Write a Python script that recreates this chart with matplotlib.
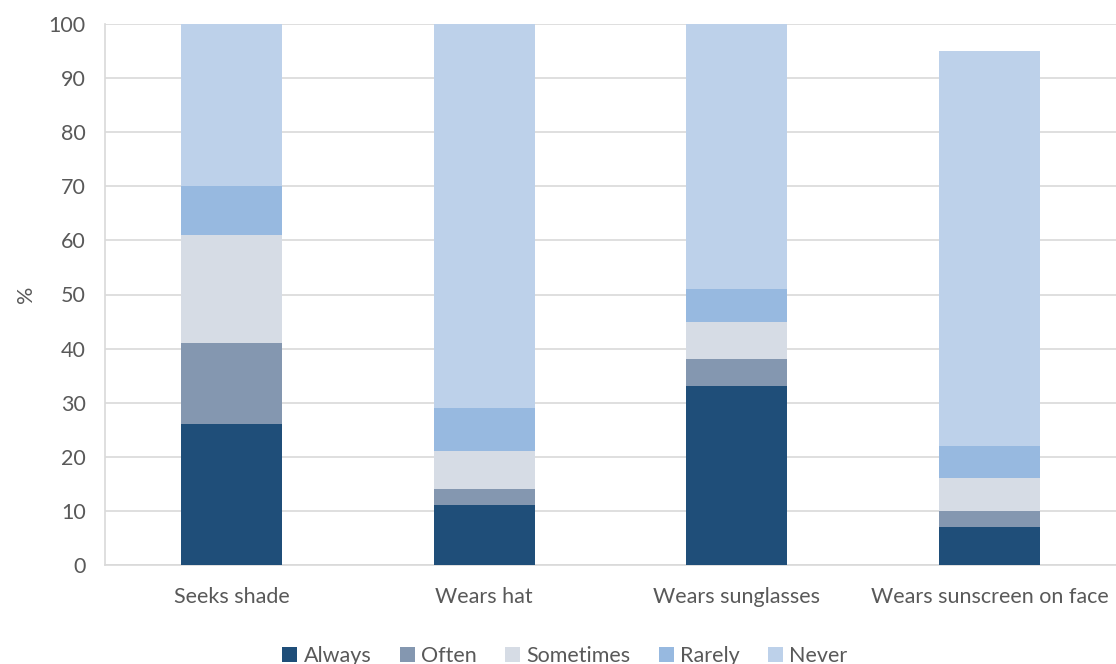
import matplotlib
matplotlib.use("Agg")
import matplotlib.pyplot as plt
import numpy as np

categories = ["Seeks shade", "Wears hat", "Wears sunglasses", "Wears sunscreen on face"]
series_names = ["Always", "Often", "Sometimes", "Rarely", "Never"]
always = [26, 11, 33, 7]
often = [15, 3, 5, 3]
sometimes = [20, 7, 7, 6]
rarely = [9, 8, 6, 6]
never = [30, 71, 49, 73]
colors = ["#1f4e79", "#8497b0", "#d6dce5", "#97b9e0", "#bdd1ea"]
yticks = [0, 10, 20, 30, 40, 50, 60, 70, 80, 90, 100]

plt.rcParams['font.family'] = ['Lato', 'DejaVu Sans']

fig = plt.figure(figsize=(11.16, 6.64), dpi=100)
ax = fig.add_axes([105/1116, 99/664, 1011/1116, 541/664])

x = np.arange(len(categories))
bottom = np.zeros(len(categories))
for name, vals, c in zip(series_names, [always, often, sometimes, rarely, never], colors):
    ax.bar(x, vals, 0.4, bottom=bottom, color=c, label=name, zorder=3)
    bottom += np.array(vals)

ax.set_xlim(-0.5, 3.5)
ax.set_ylim(0, 100)
ax.set_yticks(yticks)
ax.yaxis.grid(True, color="#d9d9d9", linewidth=1.2, zorder=0)
ax.set_xticks(x)
ax.set_xticklabels(categories)
for s in ["top", "right"]:
    ax.spines[s].set_visible(False)
for s in ["left", "bottom"]:
    ax.spines[s].set_color("#d9d9d9")
    ax.spines[s].set_linewidth(1.2)
ax.tick_params(axis="both", length=0, labelsize=15.5, colors="#595959")
ax.tick_params(axis="x", pad=16)
ax.tick_params(axis="y", pad=14)
ax.set_ylabel("%", fontsize=15.5, color="#595959", labelpad=9)

leg = fig.legend(loc="center", bbox_to_anchor=(565/1116, 1 - 656/664), ncol=5, frameon=False,
                 fontsize=15.5, labelcolor="#595959", handlelength=0.7, handleheight=0.7,
                 handletextpad=0.3, columnspacing=1.3)
fig.savefig("out.png", dpi=100)
